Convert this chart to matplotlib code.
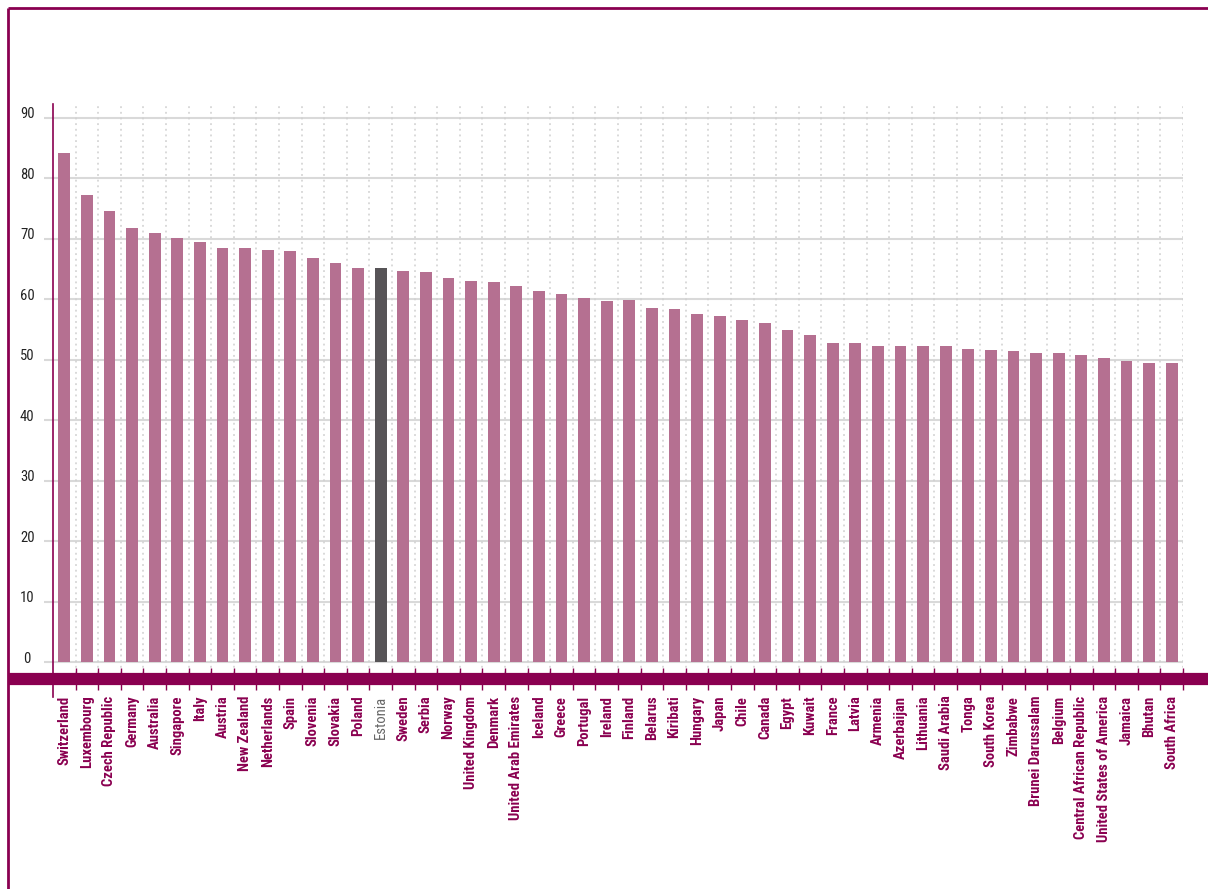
import matplotlib
matplotlib.use("Agg")
import matplotlib.pyplot as plt
from matplotlib import font_manager
from matplotlib.lines import Line2D
from matplotlib.transforms import ScaledTranslation

countries = [
    "Switzerland", "Luxembourg", "Czech Republic", "Germany", "Australia",
    "Singapore", "Italy", "Austria", "New Zealand", "Netherlands", "Spain",
    "Slovenia", "Slovakia", "Poland", "Estonia", "Sweden", "Serbia", "Norway",
    "United Kingdom", "Denmark", "United Arab Emirates", "Iceland", "Greece",
    "Portugal", "Ireland", "Finland", "Belarus", "Kiribati", "Hungary", "Japan",
    "Chile", "Canada", "Egypt", "Kuwait", "France", "Latvia", "Armenia",
    "Azerbaijan", "Lithuania", "Saudi Arabia", "Tonga", "South Korea",
    "Zimbabwe", "Brunei Darussalam", "Belgium", "Central African Republic",
    "United States of America", "Jamaica", "Bhutan", "South Africa",
]
scores = [
    84.2, 77.2, 74.6, 71.8, 71.0, 70.1, 69.5, 68.5, 68.5, 68.2, 68.0,
    66.8, 66.0, 65.2, 65.2, 64.7, 64.5, 63.5, 63.0, 62.9, 62.2, 61.4,
    60.9, 60.2, 59.7, 59.9, 58.6, 58.4, 57.6, 57.2, 56.6, 56.1, 54.9,
    54.1, 52.8, 52.8, 52.3, 52.3, 52.3, 52.3, 51.8, 51.6, 51.5, 51.1,
    51.1, 50.8, 50.3, 49.8, 49.5, 49.5,
]
highlight = "Estonia"
y_ticks = [0, 10, 20, 30, 40, 50, 60, 70, 80, 90]

PURPLE = "#8a0050"
BAR = "#b57091"
BAR_HI = "#575457"
GRID = "#d9d9d9"
DOTS = "#cfcfcf"

available = {f.name for f in font_manager.fontManager.ttflist}
family = "DejaVu Sans"
for cand in ["Liberation Sans Narrow", "Roboto Condensed", "Open Sans Condensed"]:
    if cand in available:
        family = cand
        break
plt.rcParams["font.family"] = [family, "DejaVu Sans"]

W, H = 1208, 889
fig = plt.figure(figsize=(W / 100, H / 100), dpi=100)

def fx(px):
    return px / W

def fy(py):
    return 1 - py / H

ax = fig.add_axes([fx(53), fy(679), fx(1183) - fx(53), fy(104) - fy(679)])
ax.set_xlim(-0.5, len(countries) - 0.5)
ax.set_ylim(-2.76, 92.3)

x = list(range(len(countries)))
colors = [BAR_HI if c == highlight else BAR for c in countries]
ax.bar(x, scores, width=0.53, color=colors, zorder=3)

# grid: solid horizontal lines, dotted separators between categories
for v in y_ticks:
    ax.axhline(v, color=GRID, lw=1.5, zorder=1)
for b in range(len(countries)):
    ax.axvline(b + 0.5, color=DOTS, lw=1.1, ls=(0, (1.2, 2.5)), zorder=1)

for s in ["top", "right", "bottom"]:
    ax.spines[s].set_visible(False)
ax.spines["left"].set_color(PURPLE)
ax.spines["left"].set_linewidth(1.2)

ax.set_yticks(y_ticks)
ax.set_yticklabels([str(v) for v in y_ticks], fontsize=10.5, color="#222222",
                   ha="center")
ax.tick_params(axis="y", length=6.5, color=GRID, width=1.5, pad=12)
for lab in ax.get_yticklabels():
    lab.set_transform(lab.get_transform() + ScaledTranslation(0, 5 / 100, fig.dpi_scale_trans))

ax.set_xticks(x)
ax.set_xticklabels(countries, rotation=90, fontsize=10.5, color=PURPLE,
                   ha="center", va="top", fontweight="bold")
ax.tick_params(axis="x", which="major", length=0, pad=12)
for lab in ax.get_xticklabels():
    if lab.get_text() == highlight:
        lab.set_color("#666666")
        lab.set_fontweight("normal")
ax.set_xticks([b + 0.5 for b in range(len(countries))], minor=True)
ax.tick_params(axis="x", which="minor", direction="inout", length=16,
               color=PURPLE, width=1.0)

# thick baseline band and frame
fig.add_artist(Line2D([fx(8), fx(1208)], [fy(679), fy(679)], color=PURPLE,
                      lw=8.8, solid_capstyle="butt"))
fig.add_artist(Line2D([fx(53), fx(53)], [fy(679), fy(697)], color=PURPLE, lw=1.2))
fig.add_artist(Line2D([fx(8), fx(8)], [fy(8), 0], color=PURPLE, lw=2.0,
                      solid_capstyle="butt"))
fig.add_artist(Line2D([fx(8), 1], [fy(8), fy(8)], color=PURPLE, lw=2.0,
                      solid_capstyle="butt"))

fig.savefig("out.png", dpi=100)
